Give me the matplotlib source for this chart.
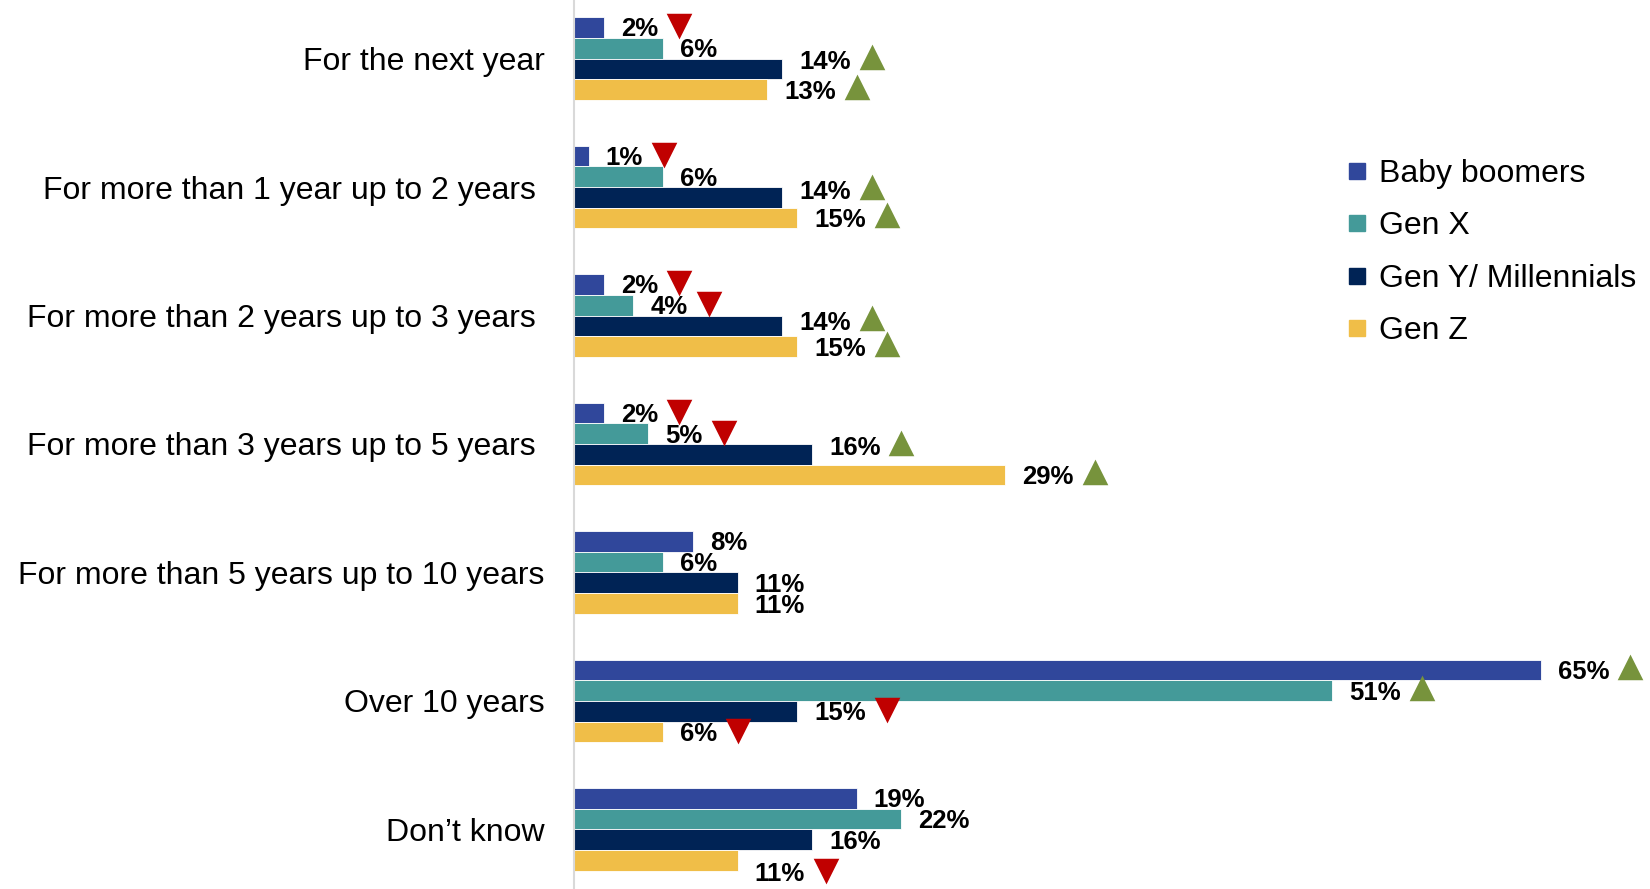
import numpy as np
import matplotlib.pyplot as plt
from matplotlib.lines import Line2D

# ===============================
# DATA
# ===============================
categories = [
    "For the next year",
    "For more than 1 year up to 2 years ",
    "For more than 2 years up to 3 years ",
    "For more than 3 years up to 5 years ",
    "For more than 5 years up to 10 years",
    "Over 10 years",
    "Don\u2019t know",
]
series = ["Baby boomers", "Gen X", "Gen Y/ Millennials", "Gen Z"]

baby_boomers = [2, 1, 2, 2, 8, 65, 19]
gen_x = [6, 6, 4, 5, 6, 51, 22]
gen_y = [14, 14, 14, 16, 11, 15, 16]
gen_z = [13, 15, 15, 29, 11, 6, 11]

# significance vs total: 1 = higher, -1 = lower, 0 = none
sig_bb = [-1, -1, -1, -1, 0, 1, 0]
sig_x = [0, 0, -1, -1, 0, 1, 0]
sig_y = [1, 1, 1, 1, 0, -1, 0]
sig_z = [1, 1, 1, 1, 0, -1, -1]

values = [baby_boomers, gen_x, gen_y, gen_z]
flags = [sig_bb, sig_x, sig_y, sig_z]

# ===============================
# STYLE
# ===============================
colors = ["#30479B", "#449A99", "#002355", "#F0BE48"]
up_color = "#77933C"
down_color = "#C00000"

plt.rcParams["font.family"] = ["Liberation Sans", "DejaVu Sans"]

# hand nudges of a few labels (pixels, + = down), as in the original
label_nudge = {(0, 2): -9, (1, 2): -7, (2, 2): -5, (3, 2): -8, (6, 3): 11}

# ===============================
# PLOT
# ===============================
W, H = 1650, 889
fig = plt.figure(figsize=(W / 100, H / 100), dpi=100)
ax = fig.add_axes([574 / W, 0, 1 - 574 / W, 1])

px_per_unit = 128.4
bar_h = 20.7 / px_per_unit
y = np.arange(len(categories))

for i, vals in enumerate(values):
    ax.barh(y + (i - 1.5) * bar_h, vals, height=bar_h, color=colors[i],
            edgecolor="white", linewidth=0.6)

ax.set_xlim(0, (W - 574) / 14.87)
ax.set_ylim(len(categories) - 1 + 59.5 / px_per_unit, -58.5 / px_per_unit)

ax.set_yticks(y)
ax.set_yticklabels(categories, fontsize=23)
ax.tick_params(axis="y", length=0, pad=21)
ax.set_xticks([])
for s in ["top", "right", "bottom"]:
    ax.spines[s].set_visible(False)
ax.spines["left"].set_color("#D9D9D9")
ax.spines["left"].set_linewidth(1.5)

# value labels
texts = []
for i, vals in enumerate(values):
    for j, v in enumerate(vals):
        dy = 2 + label_nudge.get((j, i), 0)
        t = ax.annotate(f"{v}%", xy=(v, j + (i - 1.5) * bar_h),
                        xytext=(17 * 0.72, -dy * 0.72), textcoords="offset points",
                        ha="left", va="center", fontsize=18.5, fontweight="bold",
                        annotation_clip=False)
        texts.append((i, j, t))

# significance triangles placed after the labels
fig.canvas.draw()
renderer = fig.canvas.get_renderer()
inv = ax.transData.inverted()
for i, j, t in texts:
    f = flags[i][j]
    if f == 0:
        continue
    bb = t.get_window_extent(renderer)
    cx = bb.x1 + 21
    cy = (bb.y0 + bb.y1) / 2 + 4
    mx, my = inv.transform((cx, cy))
    ax.plot(mx, my, marker="^" if f > 0 else "v", markersize=14,
            color=up_color if f > 0 else down_color, mew=2.5,
            solid_joinstyle="round", clip_on=False)

# legend
handles = [Line2D([], [], marker="s", ls="", color=c, markersize=11.5) for c in colors]
fig.legend(handles, series, loc="upper left", bbox_to_anchor=(1344 / W, 1 - 159 / H),
           frameon=False, fontsize=23, handlelength=0.8, handletextpad=0.3,
           labelspacing=0.70, borderpad=0, borderaxespad=0)

fig.savefig("out.png", dpi=100)
